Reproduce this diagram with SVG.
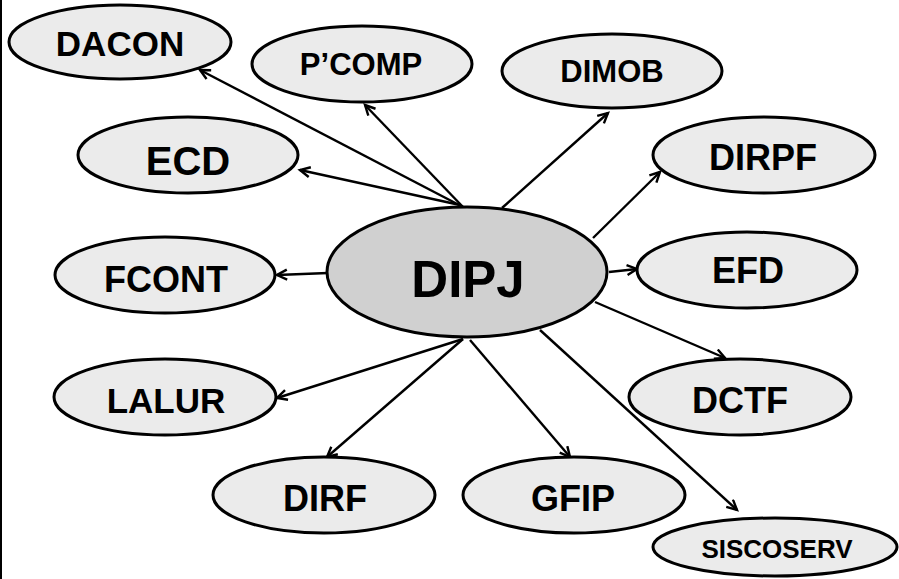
<svg xmlns="http://www.w3.org/2000/svg" width="899" height="579" viewBox="0 0 899 579">
<style>
  .node ellipse { fill: #ebebeb; stroke: #000; stroke-width: 3; }
  #n-dipj ellipse { fill: #d0d0d0; }
  text { font-family: "Liberation Sans", Arial, sans-serif; font-weight: bold; fill: #000; text-anchor: middle; }
  .conn line { stroke: #000; stroke-width: 2.4; marker-end: url(#arr); }
</style>
<defs>
  <marker id="arr" markerUnits="userSpaceOnUse" markerWidth="14" markerHeight="14" refX="11" refY="6" orient="auto">
    <path d="M1,1 L11,6 L1,11" fill="none" stroke="#000" stroke-width="2.4"/>
  </marker>
</defs>
<rect x="0" y="0" width="899" height="579" fill="#fff"/>
<line x1="1" y1="0" x2="1" y2="579" stroke="#000" stroke-width="2"/>
<g id="connectors" class="conn">
  <line x1="463" y1="207" x2="200" y2="70"/>
  <line x1="463" y1="207" x2="365" y2="105"/>
  <line x1="460" y1="205" x2="300" y2="170"/>
  <line x1="502" y1="208" x2="608" y2="113"/>
  <line x1="593" y1="238" x2="660" y2="172"/>
  <line x1="328" y1="273" x2="277" y2="275"/>
  <line x1="609" y1="272" x2="637" y2="269"/>
  <line x1="595" y1="302" x2="725" y2="358"/>
  <line x1="463" y1="339" x2="277" y2="398"/>
  <line x1="463" y1="339" x2="327" y2="457"/>
  <line x1="470" y1="340" x2="570" y2="457"/>
  <line x1="540" y1="330" x2="737" y2="510"/>
</g>
<g id="n-dacon" class="node"><ellipse cx="120" cy="42" rx="111" ry="37"/><text x="120" y="56" font-size="35">DACON</text></g>
<g id="n-pcomp" class="node"><ellipse cx="362" cy="64" rx="110" ry="38"/><text x="361" y="75" font-size="31">P’COMP</text></g>
<g id="n-dimob" class="node"><ellipse cx="612" cy="71" rx="110" ry="37"/><text x="612" y="82" font-size="31">DIMOB</text></g>
<g id="n-ecd" class="node"><ellipse cx="188" cy="155" rx="110" ry="38"/><text x="188" y="175" font-size="40">ECD</text></g>
<g id="n-dirpf" class="node"><ellipse cx="764" cy="155" rx="111" ry="38"/><text x="763" y="170" font-size="36">DIRPF</text></g>
<g id="n-fcont" class="node"><ellipse cx="165" cy="275" rx="110" ry="38"/><text x="166" y="292" font-size="36">FCONT</text></g>
<g id="n-dipj" class="node"><ellipse cx="467" cy="272" rx="140" ry="65"/><text x="468" y="297" font-size="51">DIPJ</text></g>
<g id="n-efd" class="node"><ellipse cx="747" cy="270" rx="110" ry="38"/><text x="748" y="283" font-size="36">EFD</text></g>
<g id="n-lalur" class="node"><ellipse cx="165" cy="397" rx="111" ry="38"/><text x="166" y="413" font-size="35">LALUR</text></g>
<g id="n-dctf" class="node"><ellipse cx="740" cy="397" rx="111" ry="38"/><text x="740" y="413" font-size="36">DCTF</text></g>
<g id="n-dirf" class="node"><ellipse cx="324" cy="495" rx="111" ry="38"/><text x="325" y="511" font-size="36">DIRF</text></g>
<g id="n-gfip" class="node"><ellipse cx="574" cy="495" rx="111" ry="38"/><text x="573" y="511" font-size="36">GFIP</text></g>
<g id="n-siscoserv" class="node"><ellipse cx="775" cy="547" rx="122" ry="29"/><text x="777" y="558" font-size="26">SISCOSERV</text></g>
</svg>
